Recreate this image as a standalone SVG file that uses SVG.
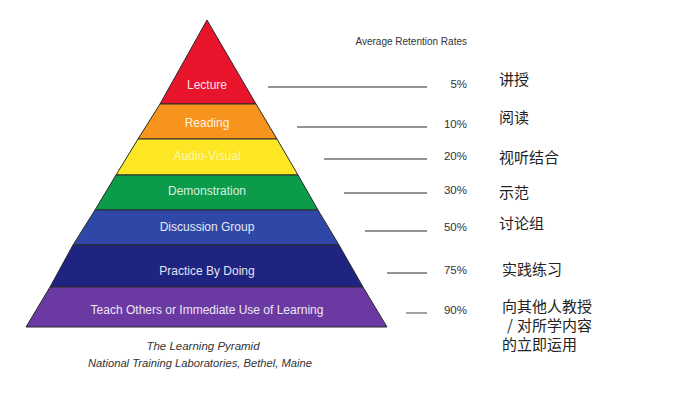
<svg xmlns="http://www.w3.org/2000/svg" width="690" height="400" viewBox="0 0 690 400">
<style>
.band{stroke:#2a2a2a;stroke-width:1}
.lbl{font-family:"Liberation Sans",Arial,sans-serif;font-size:12px;fill:#ffffff;text-anchor:middle}
.pct{font-family:"Liberation Sans",Arial,sans-serif;font-size:11.5px;fill:#333333;text-anchor:end}
.cn{font-family:"Noto Sans CJK SC","Noto Sans",sans-serif;font-size:15px;fill:#222222}
.cap{font-family:"Liberation Sans",Arial,sans-serif;font-size:11.5px;font-style:italic;fill:#333333;text-anchor:middle}
.ln{stroke:#6f6f6f;stroke-width:1.3;fill:none}
</style>
<rect width="690" height="400" fill="#ffffff"/>
<g id="lecture">
<polygon class="band" points="207,20 256,104 160,104" fill="#e8142b"/>
<text class="lbl" x="207" y="89" fill-opacity="0.9">Lecture</text>
</g>
<g id="reading">
<polygon class="band" points="160,104 256,104 277,139 138,139" fill="#f7941d"/>
<text class="lbl" x="207" y="127" fill-opacity="0.9">Reading</text>
</g>
<g id="audio-visual">
<polygon class="band" points="138,139 277,139 298,175 116,175" fill="#fde725"/>
<text class="lbl" x="207" y="160" style="fill:#fff7a8">Audio-Visual</text>
</g>
<g id="demonstration">
<polygon class="band" points="116,175 298,175 318,210 95,210" fill="#0c9b4a"/>
<text class="lbl" x="207" y="195" style="fill:#d8f0e0">Demonstration</text>
</g>
<g id="discussion">
<polygon class="band" points="95,210 318,210 339,245 73,245" fill="#2f48a8"/>
<text class="lbl" x="207" y="231" style="fill:#e4e8f6">Discussion Group</text>
</g>
<g id="practice">
<polygon class="band" points="73,245 339,245 363,287 50,287" fill="#1f2481"/>
<text class="lbl" x="207" y="275" style="fill:#e2e3f2">Practice By Doing</text>
</g>
<g id="teach">
<polygon class="band" points="50,287 363,287 387,327 26,327" fill="#6a3aa2"/>
<text class="lbl" x="207" y="314" style="fill:#eee6f6">Teach Others or Immediate Use of Learning</text>
</g>
<g id="caption">
<text class="cap" x="203" y="350">The Learning Pyramid</text>
<text class="cap" x="200" y="367" textLength="224" lengthAdjust="spacingAndGlyphs">National Training Laboratories, Bethel, Maine</text>
</g>
<g id="connectors">
<line class="ln" x1="268" y1="87" x2="427" y2="87"/>
<line class="ln" x1="297" y1="127" x2="427" y2="127"/>
<line class="ln" x1="324" y1="159" x2="427" y2="159"/>
<line class="ln" x1="344" y1="193" x2="427" y2="193"/>
<line class="ln" x1="365" y1="231" x2="427" y2="231"/>
<line class="ln" x1="387" y1="273" x2="427" y2="273"/>
<line class="ln" x1="406" y1="313" x2="427" y2="313"/>
</g>
<g id="rates">
<text x="467" y="45" style="font-family:'Liberation Sans',Arial,sans-serif;font-size:10px;fill:#333333;text-anchor:end">Average Retention Rates</text>
<text class="pct" x="467" y="88">5%</text>
<text class="pct" x="467" y="128">10%</text>
<text class="pct" x="467" y="160">20%</text>
<text class="pct" x="467" y="194">30%</text>
<text class="pct" x="467" y="231">50%</text>
<text class="pct" x="467" y="274">75%</text>
<text class="pct" x="467" y="314">90%</text>
</g>
<g id="chinese">
<text class="cn" x="499" y="85">讲授</text>
<text class="cn" x="499" y="123">阅读</text>
<text class="cn" x="499" y="163">视听结合</text>
<text class="cn" x="499" y="198">示范</text>
<text class="cn" x="499" y="229">讨论组</text>
<text class="cn" x="502" y="275">实践练习</text>
<text class="cn" x="502" y="312">向其他人教授</text>
<text class="cn" x="507" y="331">/<tspan x="517">对所学内容</tspan></text>
<text class="cn" x="502" y="350">的立即运用</text>
</g>
</svg>
